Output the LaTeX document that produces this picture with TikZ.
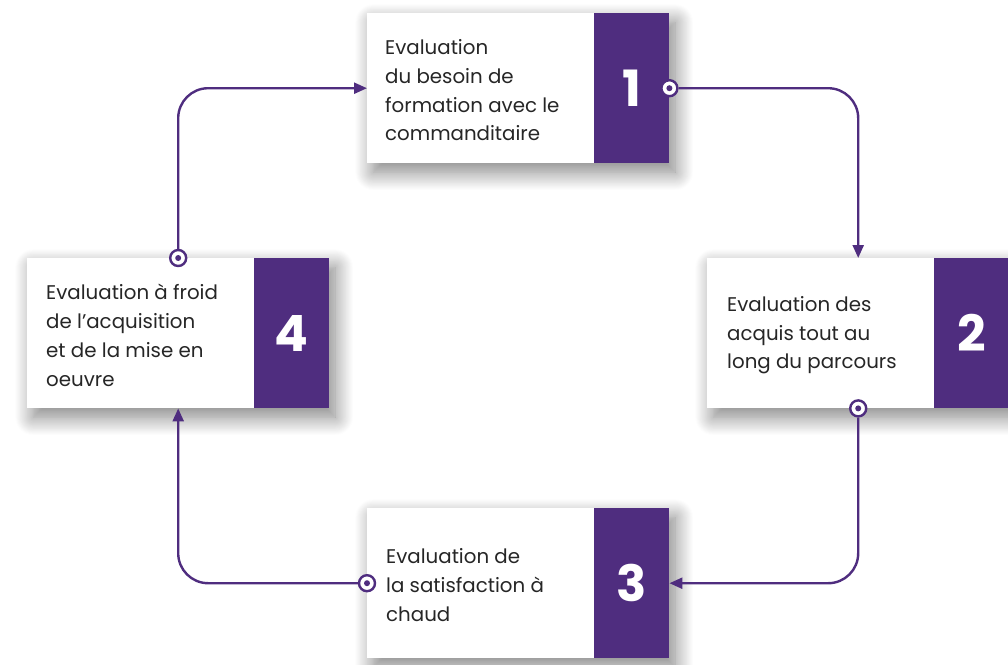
\documentclass[tikz,border=0pt]{standalone}
\usepackage{fontspec}
\setmainfont{Poppins}
\usetikzlibrary{arrows.meta,shadows.blur}
\definecolor{pur}{HTML}{4F2D7F}
\definecolor{txt}{HTML}{262626}
\begin{document}
\begin{tikzpicture}[x=1pt,y=-1pt,
  card/.style={draw=none,fill=white,minimum width=302pt,minimum height=150pt,inner sep=0pt,anchor=north west,
    blur shadow={shadow xshift=6pt,shadow yshift=-9pt,shadow blur radius=18pt,shadow blur steps=20,shadow opacity=50}},
  band/.style={draw=none,fill=pur,minimum width=75pt,minimum height=150pt,inner sep=0pt,anchor=north east},
  num/.style={text=white,font=\fontsize{50}{50}\selectfont\bfseries},
  lbl/.style={anchor=west,align=left,inner sep=0pt,text=txt,font=\fontsize{19.8}{28.8}\selectfont},
  conn/.style={draw=pur,line width=2.4pt,rounded corners=30pt,-{Triangle[length=13pt,width=11pt]}},
  dotmarker/.style={circle,draw=pur,fill=white,line width=2.4pt,minimum size=16pt,inner sep=0pt,
    path picture={\fill[pur] (path picture bounding box.center) circle (3pt);}}
]
\useasboundingbox (0,0) rectangle (1008,664);
% cards
\node[card] (c1) at (367,13) {};
\node[card] (c2) at (707,258) {};
\node[card] (c3) at (367,508) {};
\node[card] (c4) at (27,258) {};
\node[band] (p1) at (c1.north east) {};
\node[band] (p2) at (c2.north east) {};
\node[band] (p3) at (c3.north east) {};
\node[band] (p4) at (c4.north east) {};
\node[num] (n1) at (p1.center) {1};
\node[num] (n2) at (p2.center) {2};
\node[num] (n3) at (p3.center) {3};
\node[num] (n4) at (p4.center) {4};
% labels
\node[lbl] (t1) at ([xshift=18pt,yshift=-2pt]c1.west) {Evaluation\\du besoin de\\formation avec le\\commanditaire};
\node[lbl] (t2) at ([xshift=20pt,yshift=-2pt]c2.west) {Evaluation des\\acquis tout au\\long du parcours};
\node[lbl] (t3) at ([xshift=19pt,yshift=-2pt]c3.west) {Evaluation de\\la satisfaction à\\chaud};
\node[lbl] (t4) at ([xshift=19pt,yshift=-2pt]c4.west) {Evaluation à froid\\de l’acquisition\\et de la mise en\\oeuvre};
% markers
\node[dotmarker] (m1) at (c1.east) {};
\node[dotmarker] (m2) at (c2.south) {};
\node[dotmarker] (m3) at (c3.west) {};
\node[dotmarker] (m4) at (c4.north) {};
% connectors
\draw[conn] (m1.east) -| (c2.north);
\draw[conn] (m2.south) |- (c3.east);
\draw[conn] (m3.west) -| (c4.south);
\draw[conn] (m4.north) |- (c1.west);
\end{tikzpicture}
\end{document}
